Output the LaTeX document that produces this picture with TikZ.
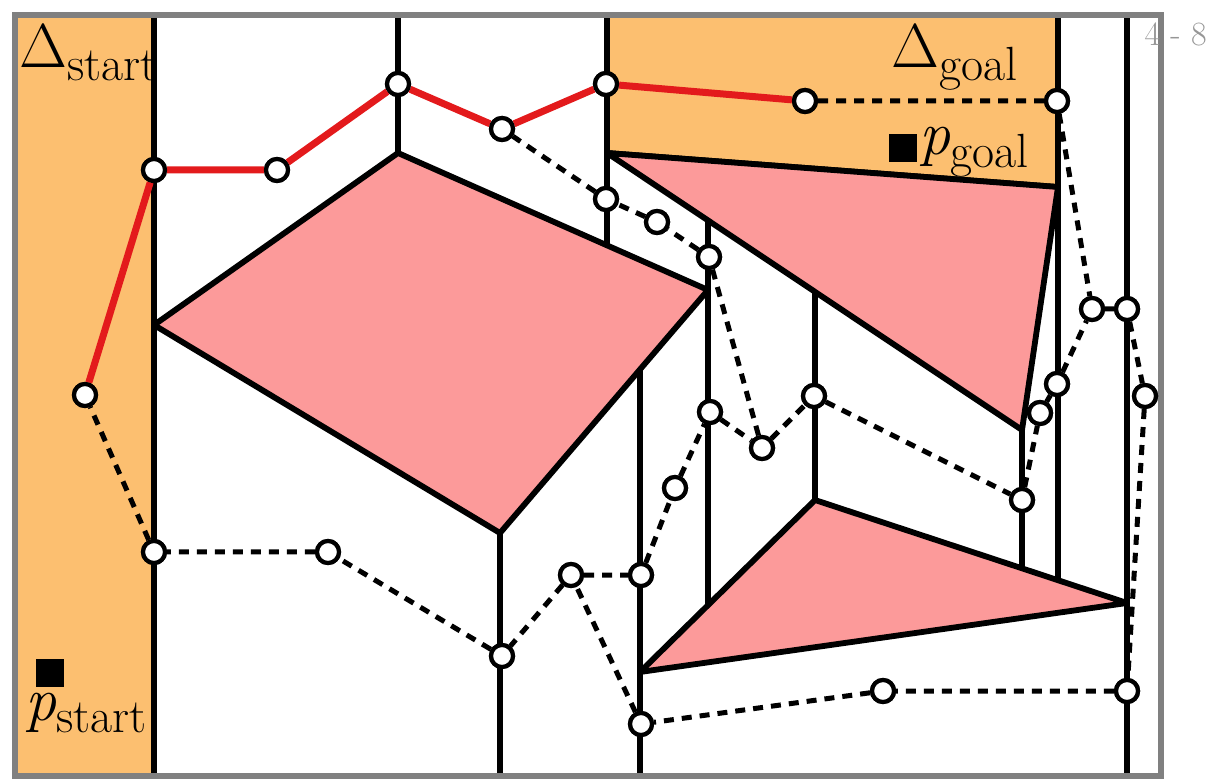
\documentclass[tikz,border=0pt]{standalone}
\usepackage{fontspec}
\definecolor{regionorange}{RGB}{252,191,112}
\definecolor{obstpink}{RGB}{252,154,154}
\definecolor{pathred}{RGB}{227,26,28}
\definecolor{framegray}{RGB}{128,128,128}
\definecolor{pagegray}{RGB}{150,150,150}
% symbol with a lowered, smaller subscript
\newcommand{\symsub}[2]{#1\raisebox{-0.2em}{\fontsize{24}{26}\selectfont #2}}
\begin{document}
\begin{tikzpicture}[x=0.5pt,y=-0.5pt,
  wall/.style={line width=2.9pt,black},
  obst/.style={fill=obstpink,draw=black,line width=2.9pt,line join=round},
  vtx/.style={circle,draw=black,fill=white,line width=2.1pt,minimum size=11pt,inner sep=0pt},
  redpath/.style={draw=pathred,line width=3.5pt},
  dashedge/.style={draw=black,line width=2.5pt,dash pattern=on 5pt off 4pt},
  marker/.style={fill=black,minimum size=14pt,inner sep=0pt},
  lbl/.style={inner sep=0pt,font=\fontsize{31}{33}\selectfont}]
\useasboundingbox (0,0) rectangle (1219,779);

% start and goal regions
\fill[regionorange] (15,15) rectangle (154,776);
\fill[regionorange] (607,15) -- (1058,15) -- (1058,187) -- (607,153) -- cycle;

% vertical decomposition walls
\draw[wall] (154,15) -- (154,776);
\draw[wall] (398,15) -- (398,153);
\draw[wall] (607,15) -- (607,245);
\draw[wall] (1058,15) -- (1058,580);
\draw[wall] (1127,15) -- (1127,776);
\draw[wall] (708,220) -- (708,605);
\draw[wall] (640,369) -- (640,776);
\draw[wall] (500,533) -- (500,776);
\draw[wall] (815,292) -- (815,500);
\draw[wall] (1022,430) -- (1022,568);
\draw[wall] (607,153) -- (1058,187);

% obstacles
\draw[obst] (154,325) -- (398,153) -- (708,290) -- (500,533) -- cycle;
\draw[obst] (607,153) -- (1058,187) -- (1022,430) -- cycle;
\draw[obst] (640,672) -- (815,500) -- (1127,603) -- cycle;

% frame
\draw[framegray,line width=2.6pt] (15,15) rectangle (1161,776);
\node[anchor=base east,inner sep=0pt,text=pagegray,font=\fontsize{17}{19}\selectfont] (pg) at (1207,46) {4 - 8};

% roadmap vertices
\node[vtx] (s1) at (85,395) {};
\node[vtx] (s2) at (154,170) {};
\node[vtx] (s3) at (277,170) {};
\node[vtx] (s4) at (398,84) {};
\node[vtx] (s5) at (502,129) {};
\node[vtx] (s6) at (606,84) {};
\node[vtx] (s7) at (805,101) {};
\node[vtx] (g1) at (1057,101) {};
\node[vtx] (a1) at (606,199) {};
\node[vtx] (a2) at (657,222) {};
\node[vtx] (a3) at (709,257) {};
\node[vtx] (b1) at (762,448) {};
\node[vtx] (b2) at (710,412) {};
\node[vtx] (b3) at (814,396) {};
\node[vtx] (b4) at (675,488) {};
\node[vtx] (c1) at (641,575) {};
\node[vtx] (c2) at (571,575) {};
\node[vtx] (c3) at (502,656) {};
\node[vtx] (c4) at (328,552) {};
\node[vtx] (c5) at (154,552) {};
\node[vtx] (d1) at (641,724) {};
\node[vtx] (d2) at (883,691) {};
\node[vtx] (d3) at (1127,691) {};
\node[vtx] (e1) at (1145,396) {};
\node[vtx] (e2) at (1127,309) {};
\node[vtx] (e3) at (1092,309) {};
\node[vtx] (e4) at (1057,384) {};
\node[vtx] (e5) at (1040,413) {};
\node[vtx] (e6) at (1022,500) {};

% roadmap edges
\draw[dashedge] (s7) -- (g1) -- (e3) -- (e2) -- (e1) -- (d3) -- (d2) -- (d1) -- (c2) -- (c1);
\draw[dashedge] (c2) -- (c3) -- (c4) -- (c5) -- (s1);
\draw[dashedge] (c1) -- (b4) -- (b2) -- (b1) -- (b3) -- (e6) -- (e5) -- (e4) -- (e3);
\draw[dashedge] (b1) -- (a3) -- (a2) -- (a1) -- (s5);
\draw[redpath] (s1) -- (s2) -- (s3) -- (s4) -- (s5) -- (s6) -- (s7);

% vertices again, above the edges
\foreach \v in {s1,s2,s3,s4,s5,s6,s7,g1,a1,a2,a3,b1,b2,b3,b4,c1,c2,c3,c4,c5,d1,d2,d3,e1,e2,e3,e4,e5,e6}
  \node[vtx] at (\v) {};

% labels
\node[lbl,anchor=base west] (lstart) at (19,68) {\symsub{Δ}{start}};
\node[lbl,anchor=base east] (lgoal) at (1018,68) {\symsub{Δ}{goal}};
\node[marker] (pg1) at (903,148) {};
\node[lbl,anchor=base west] (pgoal) at (919,155) {\symsub{\textit{p}}{goal}};
\node[marker] (ps1) at (50,673) {};
\node[lbl,anchor=base west] (pstart) at (25,720) {\symsub{\textit{p}}{start}};
\end{tikzpicture}
\end{document}
